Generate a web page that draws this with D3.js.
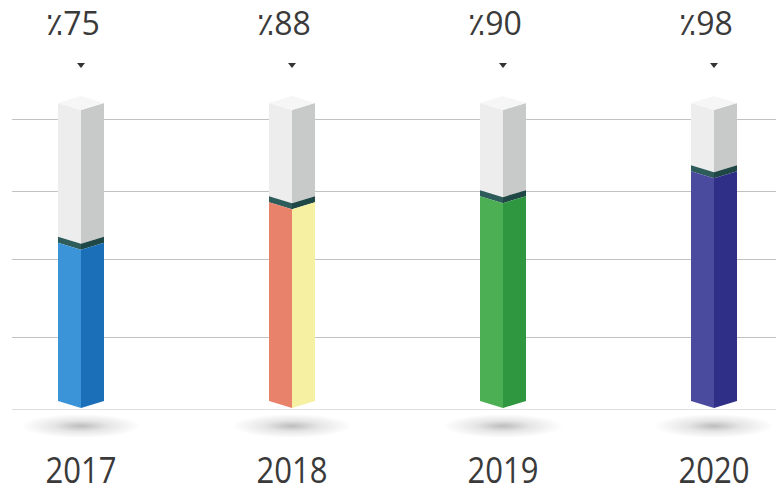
<!DOCTYPE html>
<html>
<head>
<meta charset="utf-8">
<script src="https://cdn.jsdelivr.net/npm/d3@7"></script>
<style>
  html, body { margin: 0; padding: 0; background: #ffffff; }
  svg { display: block; }
</style>
</head>
<body>
<svg id="chart" width="776" height="493"></svg>
<script>
// Yearly percentages shown as 3D prism columns
const years = ["2017", "2018", "2019", "2020"];
const values = [75, 88, 90, 98];
const valueLabels = ["٪75", "٪88", "٪90", "٪98"];
const gridValues = [47, 72, 94, 117];
const scaleMin = 24;     // foot of every column
const trackMax = 120;    // height of the grey track

const leftColors = ["#3b94d7", "#e9826a", "#4caf53", "#4a4a9f"];
const rightColors = ["#1b6fb8", "#f5f0a2", "#2e973f", "#2f2f87"];

const W = 776, H = 493;
const svg = d3.select("#chart");

const x = d3.scalePoint().domain(years).range([81, 714]);
const y = d3.scaleLinear().domain([scaleMin, trackMax]).range([408, 110]);

const halfW = 23;   // half width of a prism
const depth = 7;    // vertical drop of the diamond tip

const defs = svg.append("defs");
const shadowGrad = defs.append("radialGradient").attr("id", "shadow");
shadowGrad.append("stop").attr("offset", "0%").attr("stop-color", "#000").attr("stop-opacity", 0.26);
shadowGrad.append("stop").attr("offset", "45%").attr("stop-color", "#000").attr("stop-opacity", 0.1);
shadowGrad.append("stop").attr("offset", "100%").attr("stop-color", "#000").attr("stop-opacity", 0);

// horizontal guide lines
svg.append("g").selectAll("line")
  .data(gridValues)
  .join("line")
  .attr("x1", 12).attr("x2", W)
  .attr("y1", d => Math.round(y(d)) + 0.5)
  .attr("y2", d => Math.round(y(d)) + 0.5)
  .attr("stroke", "#c2c2c2").attr("stroke-width", 1);

// base line
svg.append("line")
  .attr("x1", 12).attr("x2", W)
  .attr("y1", Math.round(y(scaleMin)) + 1.5)
  .attr("y2", Math.round(y(scaleMin)) + 1.5)
  .attr("stroke", "#dedede").attr("stroke-width", 1);

// floor shadows
svg.append("g").selectAll("ellipse")
  .data(years)
  .join("ellipse")
  .attr("cx", d => x(d))
  .attr("cy", y(scaleMin) + 18)
  .attr("rx", 60).attr("ry", 12)
  .attr("fill", "url(#shadow)");

// two visible faces of a prism between front-tip levels yTop and yBot
function prism(g, cx, yTop, yBot, cLeft, cRight) {
  g.append("polygon")
    .attr("points", [[cx - halfW, yTop - depth], [cx, yTop], [cx, yBot], [cx - halfW, yBot - depth]].join(" "))
    .attr("fill", cLeft);
  g.append("polygon")
    .attr("points", [[cx, yTop], [cx + halfW, yTop - depth], [cx + halfW, yBot - depth], [cx, yBot]].join(" "))
    .attr("fill", cRight);
}

const bars = svg.append("g");
years.forEach((yr, i) => {
  const cx = x(yr);
  const g = bars.append("g");
  const yv = y(values[i]);
  const yT = y(trackMax);
  // grey track above the value
  prism(g, cx, yT, yv - 6, "#ededed", "#c8cac9");
  // top cap
  g.append("polygon")
    .attr("points", [[cx - halfW, yT - depth], [cx, yT - 2 * depth], [cx + halfW, yT - depth], [cx, yT]].join(" "))
    .attr("fill", "#f6f6f6");
  // dark joint ring
  prism(g, cx, yv - 6, yv, "#2d5c5b", "#1f4746");
  // coloured value column
  prism(g, cx, yv, y(scaleMin), leftColors[i], rightColors[i]);
});

// value labels with pointers
svg.append("g").selectAll("text")
  .data(years)
  .join("text")
  .attr("x", d => x(d) - 8)
  .attr("y", 35)
  .attr("text-anchor", "middle")
  .attr("font-family", "'Open Sans', 'DejaVu Sans', sans-serif")
  .attr("font-size", 32)
  .attr("fill", "#3a3a3a")
  .text((d, i) => valueLabels[i]);

svg.append("g").selectAll("path")
  .data(years)
  .join("path")
  .attr("d", d => `M${x(d) - 4},${63} L${x(d) + 4},${63} L${x(d)},${68} Z`)
  .attr("fill", "#333");

// year labels
svg.append("g").selectAll("text")
  .data(years)
  .join("text")
  .attr("x", d => x(d))
  .attr("y", 483)
  .attr("text-anchor", "middle")
  .attr("font-family", "'Open Sans', sans-serif")
  .attr("font-size", 36)
  .attr("textLength", 71)
  .attr("lengthAdjust", "spacingAndGlyphs")
  .attr("fill", "#3a3a3a")
  .text(d => d);
</script>
</body>
</html>
